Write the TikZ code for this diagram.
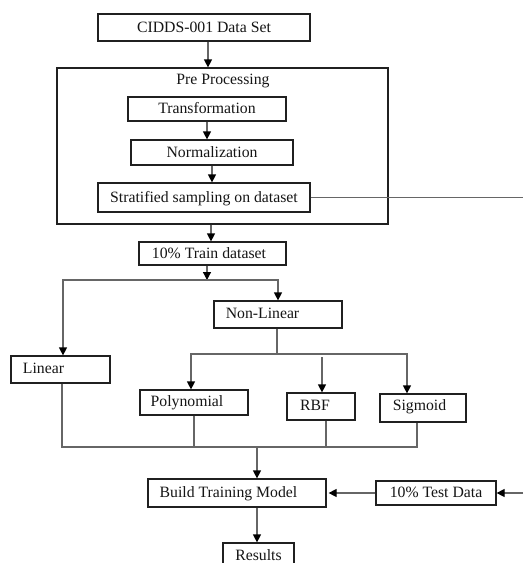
\documentclass[tikz,border=0pt]{standalone}
\usepackage{fontspec}
\setmainfont{Liberation Serif}
\usetikzlibrary{arrows.meta,calc}
\definecolor{boxc}{HTML}{202020}
\definecolor{linec}{HTML}{666666}
\definecolor{txtc}{HTML}{151515}
\newcommand\diagfont{\fontsize{15.75}{18}\selectfont}
\begin{document}
\begin{tikzpicture}[x=1pt,y=-1pt,
  box/.style={draw=boxc, line width=1.2pt, inner sep=0pt, font=\diagfont, text=txtc, text height=9pt, text depth=0pt},
  lab/.style={inner sep=0pt, font=\diagfont, text=txtc, text height=9pt, text depth=0pt},
  conn/.style={draw=linec, line width=1.2pt},
  arr/.style={conn, -{Triangle[length=8pt,width=8pt,color=black,fill=black]}}]
\useasboundingbox (0,0) rectangle (523,563);
\clip (0,0) rectangle (523,563);
% boxes
\node[box, minimum width=212pt, minimum height=27pt] (cidds) at (204,27.5) {CIDDS-001 Data Set};
\node[box, minimum width=331pt, minimum height=156pt] (pre) at (222.5,146) {};
\node[lab] (preT) at (223,80) {Pre Processing};
\node[box, minimum width=158pt, minimum height=24pt] (trans) at (207,109) {Transformation};
\node[box, minimum width=162pt, minimum height=25pt] (norm) at (212,152.5) {Normalization};
\node[box, minimum width=212pt, minimum height=29pt] (strat) at (204,197.5) {Stratified sampling on dataset};
\node[box, minimum width=147pt, minimum height=23pt] (train) at (212.5,253.5) {};
\node[lab] (trainT) at (209,253.5) {10\% Train dataset};
\node[box, minimum width=128pt, minimum height=27pt] (nonlin) at (278,314.5) {};
\node[lab] (nonlinT) at (262.5,314) {Non-Linear};
\node[box, minimum width=99pt, minimum height=27pt] (linear) at (60.5,369.5) {};
\node[lab] (linearT) at (43.5,369) {Linear};
\node[box, minimum width=108pt, minimum height=25pt] (poly) at (194,402.5) {};
\node[lab] (polyT) at (187,402) {Polynomial};
\node[box, minimum width=68pt, minimum height=27pt] (rbf) at (321,406.5) {};
\node[lab] (rbfT) at (315,406) {RBF};
\node[box, minimum width=86pt, minimum height=28pt] (sig) at (423,408) {};
\node[lab] (sigT) at (419.5,406) {Sigmoid};
\node[box, minimum width=178pt, minimum height=28pt] (build) at (237,493) {};
\node[lab] (buildT) at (228.5,492.5) {Build Training Model};
\node[box, minimum width=120pt, minimum height=24pt] (test) at (436,493) {10\% Test Data};
\node[box, minimum width=71pt, minimum height=25pt] (results) at (258.5,555.5) {Results};
% connectors
\coordinate (a1) at ($(cidds.south)+(4,0)$);
\draw[arr] (a1) -- (a1 |- pre.north);
\draw[arr] (trans.south) -- (trans.south |- norm.north);
\draw[arr] (norm.south) -- (norm.south |- strat.north);
\coordinate (edge1) at (523,199);
\draw[conn] (strat.east) -- (strat.east -| edge1);
\coordinate (a3) at ($(pre.south)+(-11.5,0)$);
\draw[arr] (a3) -- (a3 |- train.north);
\coordinate (split1) at (207,280);
\draw[arr] (split1 |- train.south) -- (split1);
\coordinate (linTop) at ($(linear.north)+(2.5,0)$);
\draw[arr] (split1) -| (linTop);
\draw[arr] (split1) -| (nonlin.north);
\coordinate (split2) at (277,354);
\draw[conn] (split2 |- nonlin.south) -- (split2);
\coordinate (polyTop) at ($(poly.north)+(-3,0)$);
\coordinate (sigTop) at ($(sig.north)+(-16,0)$);
\coordinate (rbfTop) at ($(rbf.north)+(1,0)$);
\draw[arr] (split2) -| (polyTop);
\draw[arr] (split2) -| (sigTop);
\draw[arr] ($(rbfTop |- split2)+(0,3)$) -- (rbfTop);
\coordinate (merge) at (257,447);
\coordinate (linBot) at ($(linear.south)+(1.5,0)$);
\coordinate (sigBot) at ($(sig.south)+(-6,0)$);
\coordinate (rbfBot) at ($(rbf.south)+(5,0)$);
\draw[conn] (linBot) |- (merge) -| (sigBot);
\draw[conn] (poly.south) -- (poly.south |- merge);
\draw[conn] (rbfBot) -- (rbfBot |- merge);
\coordinate (bTop) at ($(build.north)+(20,0)$);
\draw[arr] (merge) -- (bTop);
\draw[arr] (test.west) -- ($(test.west -| build.east)+(2,0)$);
\coordinate (edge2) at (523,493);
\draw[arr] (edge2) -- (test.east);
\coordinate (bBot) at ($(build.south)+(20,0)$);
\draw[arr] (bBot) -- (bBot |- results.north);
\end{tikzpicture}
\end{document}
